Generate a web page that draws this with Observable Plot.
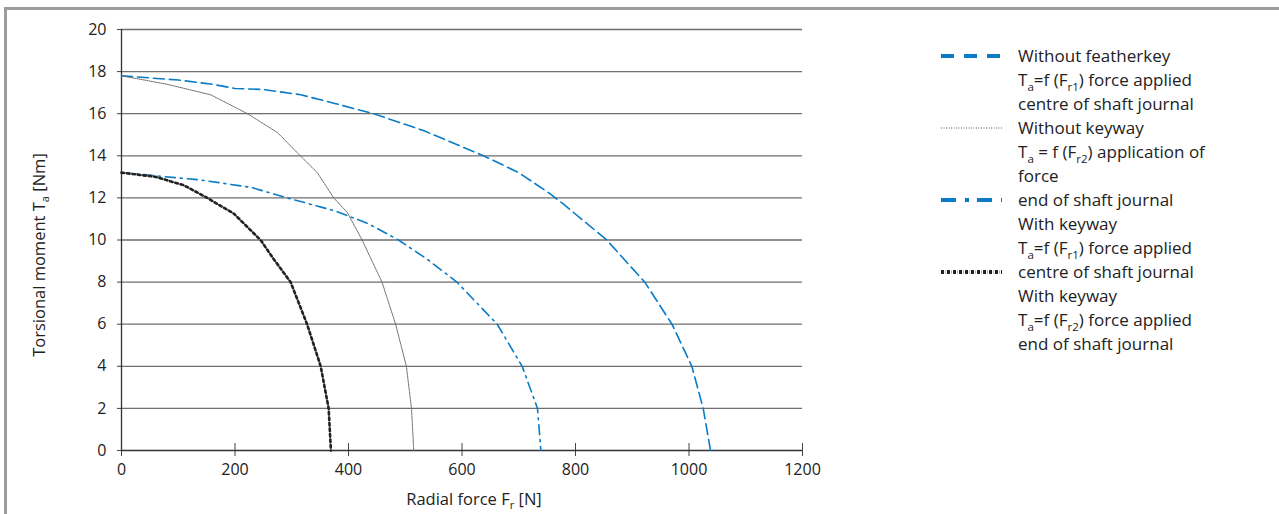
<!DOCTYPE html>
<html><head><meta charset="utf-8">
<script src="https://cdn.jsdelivr.net/npm/d3@7"></script>
<script src="https://cdn.jsdelivr.net/npm/@observablehq/plot@0.6"></script>
<style>
body{margin:0;background:#fff;font-family:"Open Sans",sans-serif;color:#222;}
#wrap{position:relative;width:1279px;height:514px;overflow:hidden;}
#frame{position:absolute;left:4px;top:7px;width:1300px;height:600px;border-left:3.5px solid #9c9c9c;border-top:3.5px solid #9c9c9c;}
#chart{position:absolute;left:0;top:0;}
#legend{position:absolute;left:940px;top:44px;font-size:17px;}
.row{height:24px;line-height:24px;position:relative;white-space:nowrap;}
.row svg{position:absolute;left:0;top:0;}
.row span{position:absolute;left:78px;top:0;}
sub{font-size:0.68em;vertical-align:-0.4em;line-height:0;}
.title{position:absolute;font-size:16.5px;white-space:nowrap;transform:translate(-50%,-50%);}
</style></head>
<body><div id="wrap"><div id="frame"></div><div id="chart"></div><div id="legend"></div>
<div class="title" id="ytitle"></div><div class="title" id="xtitle"></div></div>
<script>
// ---- data ----
const xTicks = [0,200,400,600,800,1000,1200];
const yTicks = [0,2,4,6,8,10,12,14,16,18,20];

const featherkeyForce  = [0,100,160,200,250,316,374,444,532,638,700,755,779,855,922,970,1005,1025,1038];
const featherkeyTorque = [17.8,17.6,17.4,17.2,17.15,16.9,16.5,16.0,15.2,14.0,13.2,12.2,11.7,10,8,6,4,2,0];

const noKeywayForce  = [0,80,157,222,275,315,345,374,398,424,459,483,502,511,515];
const noKeywayTorque = [17.8,17.4,16.9,16.0,15.1,14.0,13.2,12.0,11.3,10,8,6,4,2,0];

const keywayCentreForce  = [0,140,228,292,374,433,488,538,591,662,706,733,739];
const keywayCentreTorque = [13.2,12.85,12.5,12.0,11.4,10.8,10,9.1,8,6,4,2,0];

const keywayEndForce  = [0,60,110,151,198,245,268,298,327,351,365,369];
const keywayEndTorque = [13.2,13.0,12.6,12.0,11.25,10,9.1,8,6,4,2,0];

const legendLines = [
  "Without featherkey",
  "T<sub>a</sub>=f (F<sub>r1</sub>) force applied",
  "centre of shaft journal",
  "Without keyway",
  "T<sub>a</sub> = f (F<sub>r2</sub>) application of",
  "force",
  "end of shaft journal",
  "With keyway",
  "T<sub>a</sub>=f (F<sub>r1</sub>) force applied",
  "centre of shaft journal",
  "With keyway",
  "T<sub>a</sub>=f (F<sub>r2</sub>) force applied",
  "end of shaft journal"
];
const legendSampleRows = {0:"dash", 3:"dot", 6:"dashdot", 9:"black"};
const yTitle = "Torsional moment T<sub>a</sub> [Nm]";
const xTitle = "Radial force F<sub>r</sub> [N]";

// ---- chart ----
const blue = "#0a7bc6";
const pts = (a,b) => d3.zip(a,b);
const plot = Plot.plot({
  width: 900, height: 514,
  marginLeft: 121, marginRight: 98, marginTop: 29, marginBottom: 64,
  style: {fontFamily: "Open Sans, sans-serif", fontSize: "16px", color: "#222", background: "transparent", overflow: "visible"},
  x: {domain: [0,1200], label: null},
  y: {domain: [0,20], label: null},
  marks: [
    Plot.ruleY(yTicks.filter(d => d > 0), {stroke: "#6e6e6e", strokeWidth: 1.3}),
    Plot.axisY(yTicks, {tickSize: 4, tickPadding: 11, stroke: "#444", label: null, tickFormat: d => String(d)}),
    Plot.axisX(xTicks, {tickSize: 13, dy: -7, text: null, stroke: "#444", label: null}),
    Plot.axisX(xTicks, {tickSize: 0, tickPadding: 13, label: null, tickFormat: d => String(d)}),
    Plot.ruleX([0], {stroke: "#333", strokeWidth: 1.3}),
    Plot.ruleY([0], {stroke: "#333", strokeWidth: 1.3}),
    Plot.line(pts(featherkeyForce, featherkeyTorque), {x: d => d[0], y: d => d[1], stroke: blue, strokeWidth: 1.6, strokeDasharray: "11,5"}),
    Plot.line(pts(noKeywayForce, noKeywayTorque), {x: d => d[0], y: d => d[1], stroke: "#666", strokeWidth: 1, strokeDasharray: "1,1"}),
    Plot.line(pts(keywayCentreForce, keywayCentreTorque), {x: d => d[0], y: d => d[1], stroke: blue, strokeWidth: 1.6, strokeDasharray: "10,5,2,5"}),
    Plot.line(pts(keywayEndForce, keywayEndTorque), {x: d => d[0], y: d => d[1], stroke: "#aaa", strokeWidth: 1.6, strokeDasharray: "1,1"}),
    Plot.line(pts(keywayEndForce, keywayEndTorque), {x: d => d[0], y: d => d[1], stroke: "#222", strokeWidth: 2.6, strokeDasharray: "2.5,3"})
  ]
});
document.getElementById("chart").appendChild(plot);

// ---- axis titles ----
const yt = document.getElementById("ytitle");
yt.innerHTML = yTitle;
yt.style.left = "38px"; yt.style.top = "255px";
yt.style.transform = "translate(-50%,-50%) rotate(-90deg)";
const xt = document.getElementById("xtitle");
xt.innerHTML = xTitle;
xt.style.left = "474px"; xt.style.top = "498px";

// ---- legend ----
const samples = {
  dash: `<line x1="1" x2="62" y1="12" y2="12" stroke="${blue}" stroke-width="4" stroke-dasharray="13,10"/>`,
  dot: `<line x1="1" x2="62" y1="12" y2="12" stroke="#555" stroke-width="1" stroke-dasharray="1,1.5"/>`,
  dashdot: `<line x1="1" x2="62" y1="12" y2="12" stroke="${blue}" stroke-width="4" stroke-dasharray="15,9,4,8"/>`,
  black: `<line x1="1" x2="62" y1="12" y2="12" stroke="#aaa" stroke-width="3" stroke-dasharray="1,1"/><line x1="1" x2="62" y1="12" y2="12" stroke="#222" stroke-width="4" stroke-dasharray="3,3"/>`
};
const leg = document.getElementById("legend");
legendLines.forEach((t, i) => {
  const row = document.createElement("div");
  row.className = "row";
  const s = legendSampleRows[i];
  row.innerHTML = (s ? `<svg width="64" height="24">${samples[s]}</svg>` : "") + `<span>${t}</span>`;
  leg.appendChild(row);
});
</script></body></html>
